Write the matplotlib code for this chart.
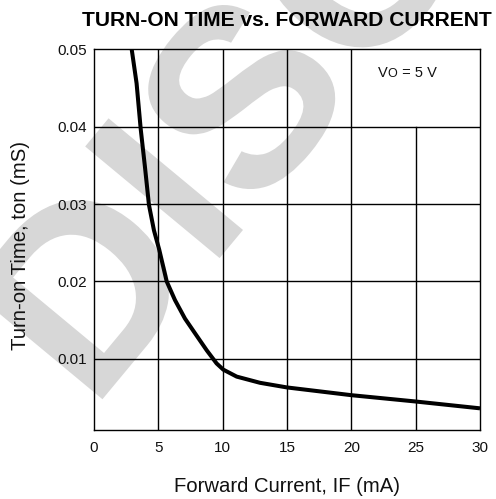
import matplotlib
matplotlib.use("Agg")
import matplotlib.pyplot as plt
from matplotlib.textpath import TextPath
from matplotlib.patches import PathPatch
from matplotlib.font_manager import FontProperties
from matplotlib.transforms import Affine2D

# Turn-on time vs forward current (Vo = 5 V)
forward_current_ma = [2.93, 3.31, 3.63, 3.96, 4.27, 4.66, 5.07, 5.65, 6.29, 7.07,
                      7.85, 8.76, 9.53, 10.05, 11.09, 12.9, 15.0, 20.0, 24.9, 30.0]
turn_on_time_ms = [0.0500, 0.0456, 0.0397, 0.0348, 0.0299, 0.0266, 0.0241, 0.0200,
                   0.0176, 0.0152, 0.0133, 0.0111, 0.0094, 0.0086, 0.0077, 0.0069,
                   0.0063, 0.0053, 0.0045, 0.0036]

x_ticks = [0, 5, 10, 15, 20, 25, 30]
x_tick_labels = ["0", "5", "10", "15", "20", "25", "30"]
y_ticks = [0.01, 0.02, 0.03, 0.04, 0.05]
y_tick_labels = ["0.01", "0.02", "0.03", "0.04", "0.05"]

title = "TURN-ON TIME vs. FORWARD CURRENT"
x_label = "Forward Current, IF (mA)"
y_label = "Turn-on Time, ton (mS)"
watermark = "DISCONTINUED"

FONT = ["Liberation Sans", "DejaVu Sans"]
plt.rcParams["font.family"] = FONT

W, H = 496, 499
DPI = 100
fig = plt.figure(figsize=(W / DPI, H / DPI), dpi=DPI)
fig.patch.set_facecolor("white")

# big grey stamp behind everything, laid out in pixel units
stamp = TextPath((0, 0), watermark, size=254,
                 prop=FontProperties(family="Liberation Sans", weight="bold"))
stamp_tf = (Affine2D().rotate_deg(50.3).translate(91.6, 86.7).scale(1 / DPI)
            + fig.dpi_scale_trans)
fig.add_artist(PathPatch(stamp, facecolor="#d7d7d7", edgecolor="none",
                         transform=stamp_tf, zorder=-5))

ax = fig.add_axes([94 / W, (H - 430) / H, (480 - 94) / W, (430 - 49.3) / H])
ax.set_facecolor("none")
ax.set_xlim(0, 30)
ax.set_ylim(0.0008, 0.05)

# grid: the x=25 line stops below the note box in the upper right
for xv in [5, 10, 15, 20]:
    ax.plot([xv, xv], [0.0008, 0.05], color="black", lw=1.0, zorder=1)
ax.plot([25, 25], [0.0008, 0.04], color="black", lw=1.0, zorder=1)
for yv in [0.01, 0.02, 0.03, 0.04]:
    ax.plot([0, 30], [yv, yv], color="black", lw=1.0, zorder=1)

ax.plot(forward_current_ma, turn_on_time_ms, color="black", lw=2.9,
        solid_capstyle="butt", solid_joinstyle="round", zorder=3)

for s in ax.spines.values():
    s.set_linewidth(1.0)
    s.set_color("black")

ax.set_xticks(x_ticks)
ax.set_xticklabels(x_tick_labels)
ax.set_yticks(y_ticks)
ax.set_yticklabels(y_tick_labels)
ax.tick_params(axis="both", length=0, labelsize=11, colors="#111111")
ax.tick_params(axis="x", pad=8.2)
ax.tick_params(axis="y", pad=5)

# note text: V with a smaller O
t1 = ax.text(378 / W, 421.7 / H, "V", transform=fig.transFigure, fontsize=10.5,
             ha="left", va="baseline", color="#111111")
t2 = ax.annotate("O", xy=(1, 0), xycoords=t1, fontsize=9, ha="left", va="bottom",
                 color="#111111")
ax.annotate(" = 5 V", xy=(1, 0), xycoords=t2, fontsize=10.5, ha="left",
            va="bottom", color="#111111")

fig.text(287 / W, (H - 26) / H, title, fontsize=15.1, fontweight="bold",
         ha="center", va="baseline", color="black")
fig.text(287 / W, 7.5 / H, x_label, fontsize=14.6, ha="center", va="baseline",
         color="#111111")
fig.text(26.5 / W, 254 / H, y_label, fontsize=14.6, rotation=90,
         rotation_mode="anchor", ha="center", va="baseline", color="#111111")

fig.savefig("out.png", dpi=DPI)
